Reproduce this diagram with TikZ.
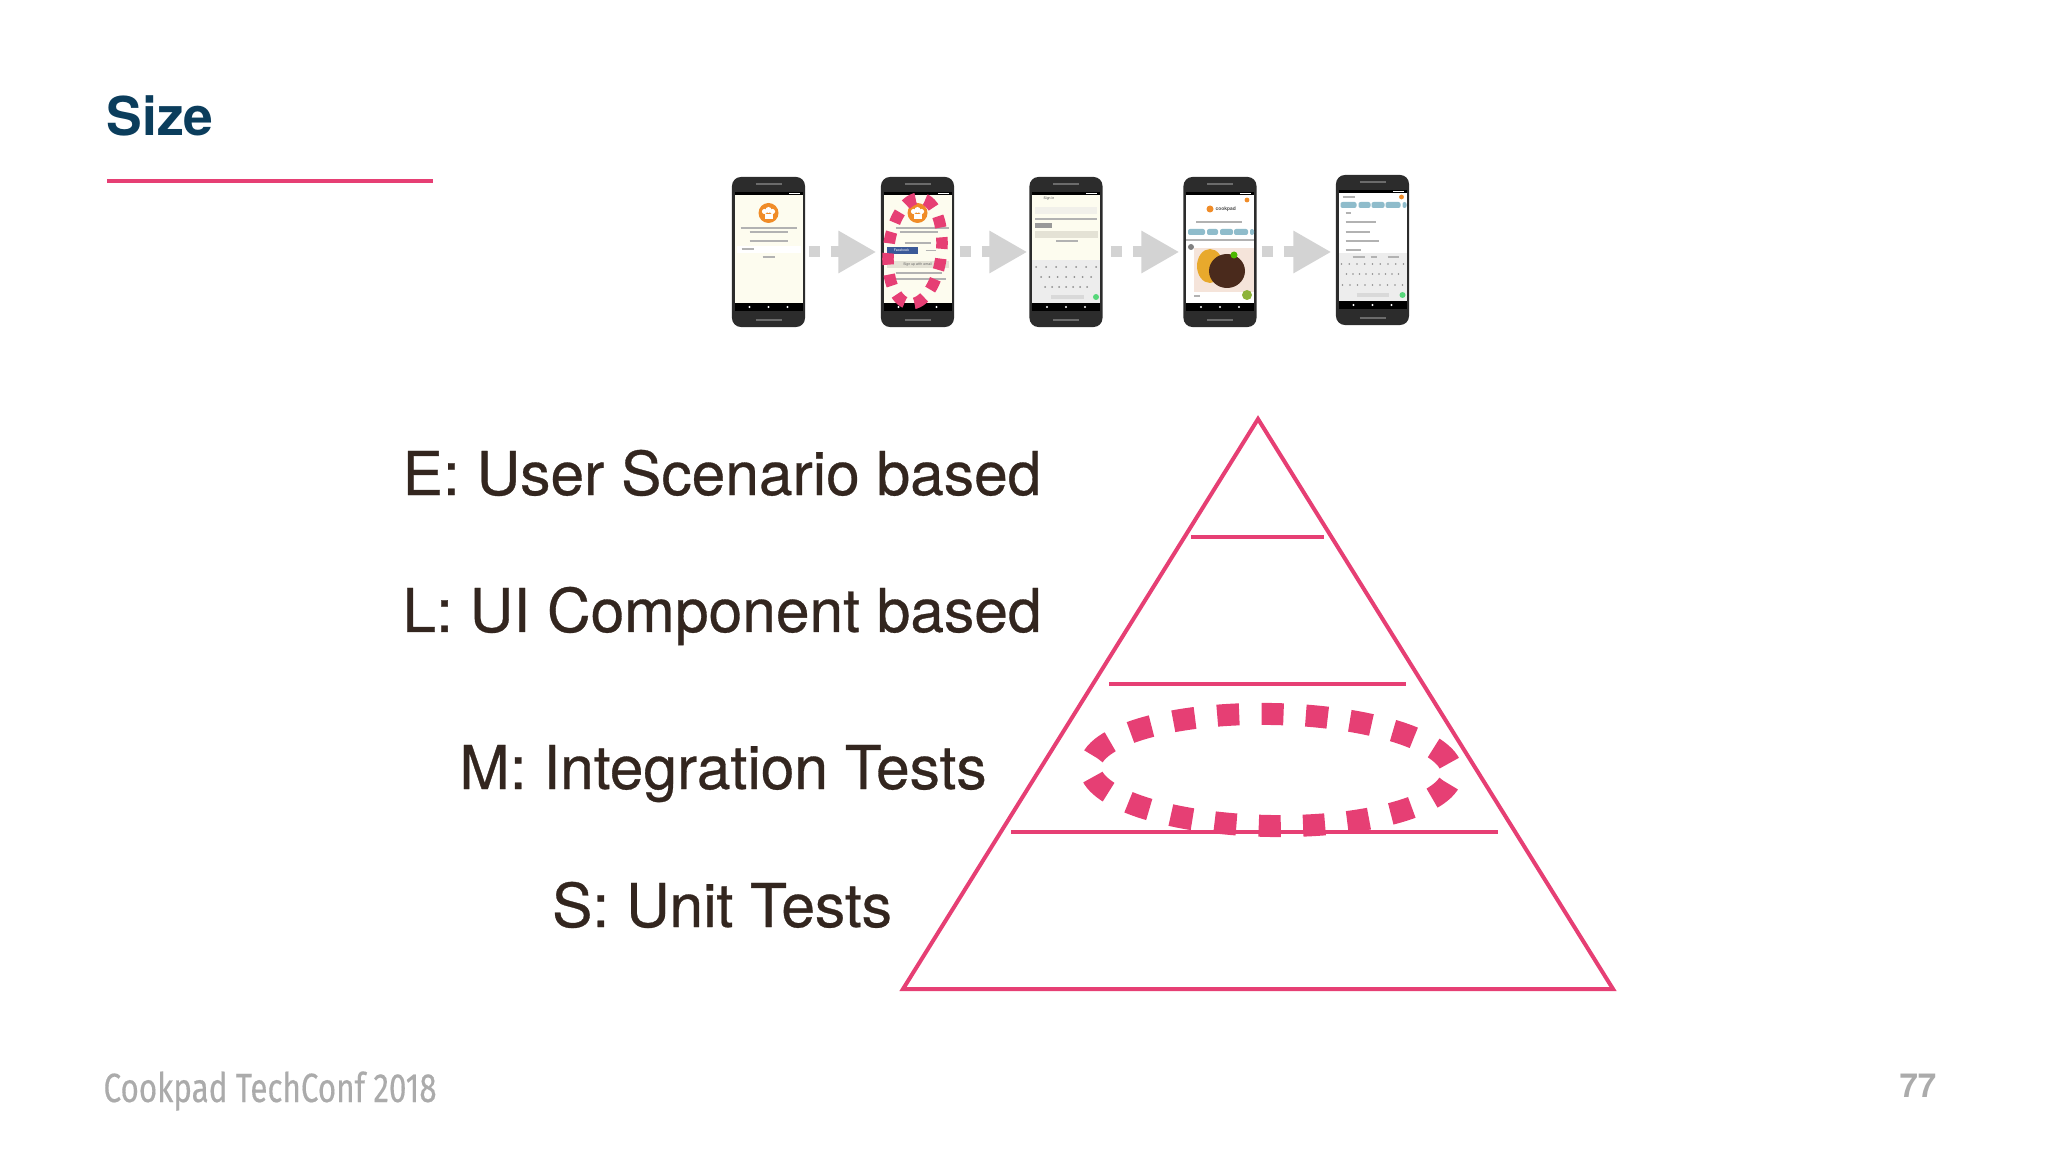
\documentclass[tikz,border=0pt]{standalone}
\usepackage{fontspec}
\setmainfont{TeX Gyre Heros}
\newfontfamily\footerfont[FakeBold=0.4]{Fira Sans}
\newfontfamily\labelfont[FakeBold=0.5]{TeX Gyre Heros}
\usetikzlibrary{arrows.meta, calc, positioning}

\definecolor{titleBlue}{HTML}{0B3D5C}
\definecolor{accentPink}{HTML}{E63F74}
\definecolor{labelBrown}{HTML}{33261F}
\definecolor{footerGray}{HTML}{ABABAB}
\definecolor{arrowGray}{HTML}{D3D3D3}
\definecolor{phoneDark}{HTML}{2C2C2C}
\definecolor{screenCream}{HTML}{FDFCEF}
\definecolor{chipTeal}{HTML}{8FBCCB}
\definecolor{logoOrange}{HTML}{F08C28}
\definecolor{buttonGray}{HTML}{E4E2D5}
\definecolor{keyGray}{HTML}{EDEDED}
\definecolor{fbBlue}{HTML}{3B5998}
\definecolor{photoPink}{HTML}{F5E4DA}
\definecolor{foodYellow}{HTML}{E8A92C}
\definecolor{foodDark}{HTML}{4A2A1C}
\definecolor{fabGreen}{HTML}{8DB33A}

\tikzset{
	phoneBody/.style = {draw = none, fill = phoneDark, rounded corners = 0.09cm, minimum width = 0.73cm, minimum height = 1.50cm, inner sep = 0},
	stepArrow/.style = {draw = arrowGray, line width = 0.11cm, dash pattern = on 0.11cm off 0.11cm on 0.30cm, -{Triangle[length = 0.38cm, width = 0.40cm]}},
	pyramidLine/.style = {draw = accentPink, line width = 0.04cm},
	dashRing/.style = {draw = accentPink, line width = 0.22cm, dash pattern = on 0.22cm off 0.223cm, dash phase = 0.33cm},
	rowLabel/.style = {anchor = base, text = labelBrown, font = \labelfont\fontsize{17.2}{20}\selectfont},
	tinyText/.style = {inner sep = 0, font = \fontsize{1.0}{1.2}\selectfont},
	greyLine/.style = {draw = black!30, line width = 0.012cm}
}

\begin{document}
\begin{tikzpicture}[x = 0.01cm, y = -0.01cm]

	\useasboundingbox (0, 0) rectangle (2048, 1152);

	% title and footer
	\node[anchor = base west, inner sep = 0, text = titleBlue, font = \fontsize{15.2}{18}\selectfont\bfseries] (title) at (106, 136) {Size};
	\coordinate (RL) at (107, 181);
	\coordinate (RR) at (433, 181);
	\draw[draw = accentPink, line width = 0.04cm] (RL) -- (RR);
	\node[anchor = base west, inner sep = 0, text = footerGray, xscale = 0.77, font = \footerfont\fontsize{11.6}{14}\selectfont] (footer) at (103, 1102) {Cookpad TechConf 2018};
	\node[anchor = base east, inner sep = 0, text = footerGray, font = \fontsize{9.4}{11}\selectfont\bfseries] (pageNumber) at (1937, 1097) {77};

	% phone bodies
	\node[phoneBody] (phone1) at (768.5, 252) {};
	\node[phoneBody] (phone2) at (917.5, 252) {};
	\node[phoneBody] (phone3) at (1066, 252) {};
	\node[phoneBody] (phone4) at (1220, 252) {};
	\node[phoneBody] (phone5) at (1372.5, 250) {};

	% step arrows
	\foreach \from/\to/\gapA/\gapB in {phone1/phone2/0.03cm/0.04cm, phone2/phone3/0.05cm/0.015cm, phone3/phone4/0.075cm/0.035cm, phone4/phone5/0.045cm/0.04cm} {
		\draw[stepArrow, shorten <= \gapA, shorten >= \gapB] (\from.east) -- (\to.west |- \from.east);
	}

	% screens and bars of all phones
	\foreach \cx/\cy/\tone in {768.5/252/screenCream, 917.5/252/screenCream, 1066/252/screenCream, 1220/252/white, 1372.5/250/white} {
		\begin{scope}[shift = {(\cx, \cy)}]
			\fill[black] (-34, -60) rectangle (34, 59);
			\fill[\tone] (-34, -57) rectangle (34, 51);
			\draw[phoneDark!70!white, line width = 0.025cm] (-13, -68) -- (13, -68);
			\draw[phoneDark!70!white, line width = 0.025cm] (-13, 68) -- (13, 68);
			\fill[white] (-19, 55) circle (1.2);
			\fill[white] (0, 55) circle (1.2);
			\fill[white] (19, 55) circle (1.2);
			\fill[white] (20, -59) rectangle (31, -58);
		\end{scope}
	}

	% chef logos
	\foreach \cx in {768.5, 917.5} {
		\begin{scope}[shift = {(\cx, 213)}]
			\fill[logoOrange] (0, 0) circle (10);
			\fill[white] (-4, 1) rectangle (4, 6);
			\fill[white] (-4, -1.5) circle (2.6);
			\fill[white] (0, -3) circle (3);
			\fill[white] (4, -1.5) circle (2.6);
		\end{scope}
	}

	% first screen
	\begin{scope}[shift = {(768.5, 252)}]
		\draw[greyLine] (-28, -24) -- (28, -24);
		\draw[greyLine] (-19, -20) -- (19, -20);
		\draw[greyLine] (-19, -11) -- (19, -11);
		\fill[white] (-32, -6) rectangle (32, 1);
		\draw[greyLine] (-27, -3) -- (-15, -3);
		\draw[greyLine] (-6, 5) -- (6, 5);
	\end{scope}

	% second screen
	\begin{scope}[shift = {(917.5, 252)}]
		\draw[greyLine] (-22, -24) -- (31, -24);
		\draw[greyLine] (-18, -20) -- (20, -20);
		\draw[greyLine] (-13, -9) -- (13, -9);
		\fill[fbBlue] (-31, -5) rectangle (0, 2);
		\node[tinyText, text = white] (fbLabel) at (-16, -1.5) {Facebook};
		\draw[greyLine] (8, -1.5) -- (18, -1.5);
		\fill[buttonGray] (-31, 9) rectangle (31, 16);
		\node[tinyText, text = black!60] (signUpLabel) at (0, 12.5) {Sign up with email};
		\draw[greyLine] (-22, 21) -- (24, 21);
		\draw[greyLine] (-28, 27) -- (28, 27);
	\end{scope}

	% third screen
	\begin{scope}[shift = {(1066, 252)}]
		\node[tinyText, text = black!70] (signInLabel) at (-17, -53) {Sign in};
		\fill[buttonGray!50!white] (-31, -45) rectangle (31, -38);
		\draw[greyLine] (-31, -33) -- (31, -33);
		\fill[black!40] (-31, -29) rectangle (-14, -24);
		\fill[buttonGray] (-31, -21) rectangle (32, -14);
		\draw[greyLine] (-10, -11) -- (12, -11);
		\fill[keyGray] (-34, 8) rectangle (34, 51);
		\foreach \ky/\kfrom/\kto in {15/-30/30, 25/-25/25, 35/-21/21} {
			\foreach \kx in {0, ..., 6} {
				\fill[black!45] ($(\kfrom, \ky)!\kx / 6!(\kto, \ky)$) circle (1);
			}
		}
		\draw[black!15, line width = 0.04cm] (-15, 45) -- (18, 45);
		\fill[chipTeal!60!green] (30, 45) circle (3);
	\end{scope}

	% fourth screen
	\begin{scope}[shift = {(1220, 252)}]
		\fill[logoOrange] (-10, -43) circle (3.5);
		\node[tinyText, anchor = west, text = black!70, font = \fontsize{1.4}{1.6}\selectfont\bfseries] (brandLabel) at (-5, -43) {cookpad};
		\fill[logoOrange] (27, -52) circle (2.4);
		\draw[greyLine] (-24, -30) -- (22, -30);
		\foreach \xa/\xb in {-32/-15, -13/-2, 0/13, 14/28, 30/34} {
			\fill[chipTeal, rounded corners = 0.02cm] (\xa, -23) rectangle (\xb, -17);
		}
		\draw[greyLine] (-34, -12) -- (34, -12);
		\fill[black!50] (-29, -5) circle (3);
		\fill[photoPink] (-26, -4) rectangle (34, 40);
		\fill[foodYellow] (-10, 14) ellipse (13 and 17);
		\fill[foodDark] (7, 19) ellipse (18 and 17);
		\fill[black!40!green!70!yellow] (14, 3) circle (3.5);
		\draw[greyLine] (-26, 44) -- (-20, 44);
		\fill[fabGreen] (27, 43) circle (5);
	\end{scope}

	% fifth screen
	\begin{scope}[shift = {(1372.5, 250)}]
		\draw[greyLine] (-30, -53) -- (-18, -53);
		\fill[logoOrange] (29, -53) circle (2.4);
		\foreach \xa/\xb in {-32/-16, -14/-2, -1/12, 13/28, 30/34} {
			\fill[chipTeal, rounded corners = 0.02cm] (\xa, -48) rectangle (\xb, -42);
		}
		\foreach \ky/\kend in {-37/-22, -28/3, -18/-3, -9/6, 0/-12} {
			\draw[greyLine] (-27, \ky) -- (\kend, \ky);
		}
		\fill[keyGray] (-34, 3) rectangle (34, 51);
		\draw[greyLine] (-20, 7) -- (-8, 7);
		\draw[greyLine] (-2, 7) -- (4, 7);
		\draw[greyLine] (15, 7) -- (26, 7);
		\foreach \ky/\kfrom/\kto in {14/-31/31, 24/-26/26, 35/-30/30} {
			\foreach \kx in {0, ..., 8} {
				\fill[black!45] ($(\kfrom, \ky)!\kx / 8!(\kto, \ky)$) circle (0.9);
			}
		}
		\draw[black!15, line width = 0.04cm] (-16, 45) -- (16, 45);
		\fill[chipTeal!60!green] (30, 45) circle (3);
	\end{scope}

	% ring on the second phone
	\coordinate (RP) at (915, 251);
	\draw[draw = accentPink, line width = 0.115cm, dash pattern = on 0.115cm off 0.099cm, dash phase = 0.165cm, rotate around = {-6:(RP)}] (RP) ellipse (26.6 and 53);

	% row labels
	\node[rowLabel] (rowE) at (722, 495) {E: User Scenario based};
	\node[rowLabel] (rowL) at (722, 632) {L: UI Component based};
	\node[rowLabel] (rowM) at (723, 789) {M: Integration Tests};
	\node[rowLabel] (rowS) at (722, 927) {S: Unit Tests};

	% pyramid coordinates
	\coordinate (PT) at (1258, 419);
	\coordinate (PL) at (903, 989);
	\coordinate (PR) at (1613, 989);
	\coordinate (LE1) at (1191, 537);
	\coordinate (LE2) at (1324, 537);
	\coordinate (LM1) at (1109, 684);
	\coordinate (LM2) at (1406, 684);
	\coordinate (LS1) at (1011, 832);
	\coordinate (LS2) at (1498, 832);
	\coordinate (RC) at (1271, 770);

	% pyramid
	\draw[pyramidLine] (PT) -- (PL) -- (PR) -- cycle;
	\draw[pyramidLine] (LE1) -- (LE2);
	\draw[pyramidLine] (LM1) -- (LM2);
	\draw[pyramidLine] (LS1) -- (LS2);

	% ring on the pyramid
	\draw[dashRing, rotate around = {-1:(RC)}] (RC) ellipse (181 and 56);

\end{tikzpicture}
\end{document}
